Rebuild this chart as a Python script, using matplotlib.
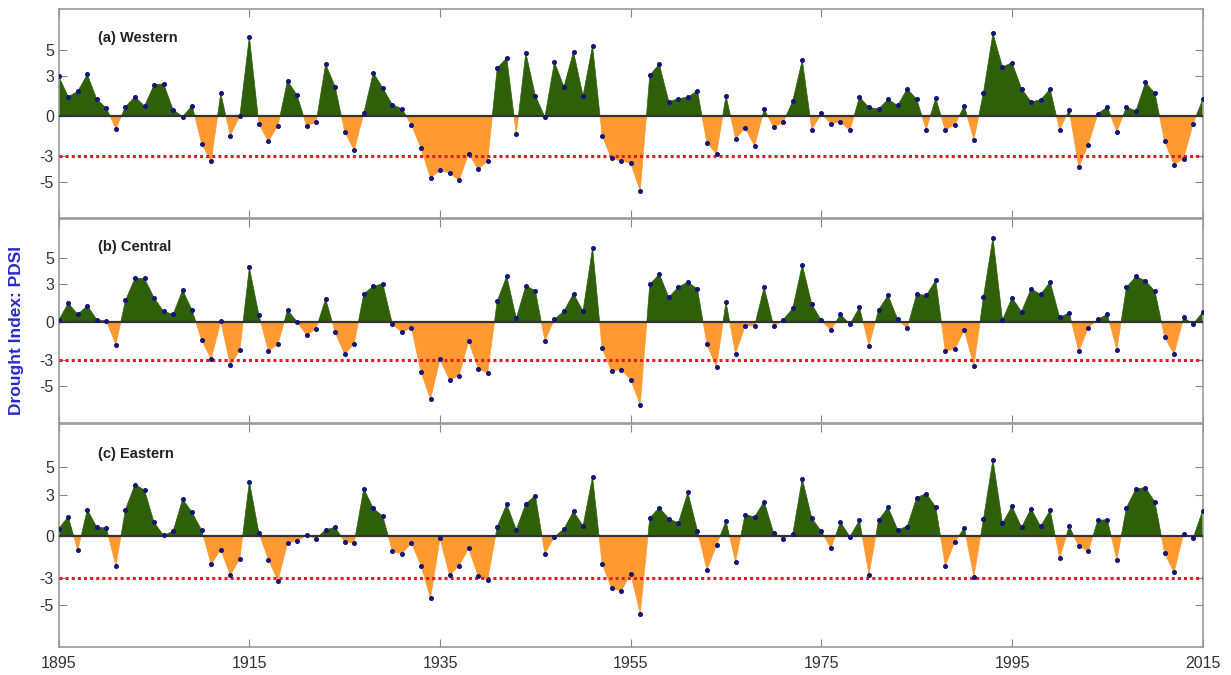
import numpy as np
import matplotlib.pyplot as plt

plt.rcParams['font.family'] = ['Liberation Sans', 'DejaVu Sans']
plt.rcParams['axes.unicode_minus'] = False

years = np.arange(1895, 2016)

western = [3.0, 1.46, 1.86, 3.14, 1.26, 0.6, -0.96, 0.7, 1.46, 0.75,
           2.34, 2.44, 0.48, -0.05, 0.78, -2.09, -3.42, 1.71, -1.48, 0.0,
           5.99, -0.6, -1.91, -0.73, 2.67, 1.58, -0.73, -0.48, 3.92, 2.21,
           -1.18, -2.59, 0.2, 3.27, 2.11, 0.86, 0.55, -0.68, -2.42, -4.68,
           -4.1, -4.3, -4.86, -2.84, -4.03, -3.4, 3.62, 4.38, -1.36, 4.78,
           1.53, -0.08, 4.08, 2.21, 4.86, 1.53, 5.31, -1.48, -3.2, -3.4,
           -3.55, -5.69, 3.07, 3.92, 1.08, 1.31, 1.43, 1.91, -2.04, -2.87,
           1.53, -1.71, -0.91, -2.26, 0.5, -0.86, -0.48, 1.13, 4.23, -1.03,
           0.2, -0.58, -0.45, -1.08, 1.43, 0.65, 0.53, 1.26, 0.8, 2.04,
           1.28, -1.03, 1.36, -1.08, -0.65, 0.78, -1.81, 1.74, 6.24, 3.7,
           4.03, 2.06, 1.08, 1.21, 2.04, -1.06, 0.48, -3.87, -2.16, 0.18,
           0.68, -1.18, 0.68, 0.38, 2.54, 1.71, -1.91, -3.67, -3.22, -0.58,
           1.26]

central = [0.13, 1.48, 0.6, 1.28, 0.18, 0.08, -1.77, 1.69, 3.41, 3.41,
           1.9, 0.83, 0.6, 2.5, 0.91, -1.43, -2.89, 0.05, -3.36, -2.21,
           4.27, 0.55, -2.27, -1.74, 0.94, 0.03, -1.04, -0.52, 1.82, -0.81,
           -2.53, -1.69, 2.21, 2.79, 3.0, -0.16, -0.81, -0.44, -3.91, -6.04,
           -2.92, -4.53, -4.19, -1.48, -3.67, -3.98, 1.64, 3.59, 0.29, 2.84,
           2.45, -1.46, 0.21, 0.86, 2.21, 0.86, 5.81, -2.06, -3.83, -3.72,
           -4.5, -6.48, 2.94, 3.75, 1.95, 2.73, 3.13, 2.58, -1.74, -3.54,
           1.59, -2.5, -0.31, -0.29, 2.73, -0.34, 0.18, 1.07, 4.48, 1.38,
           0.13, -0.65, 0.6, -0.18, 1.15, -1.85, 0.96, 2.08, 0.23, -0.49,
           2.19, 2.08, 3.26, -2.27, -2.11, -0.65, -3.44, 1.95, 6.61, 0.16,
           1.9, 0.81, 2.6, 2.16, 3.13, 0.36, 0.73, -2.29, -0.44, 0.21,
           0.6, -2.16, 2.71, 3.57, 3.23, 2.4, -1.15, -2.53, 0.36, -0.16,
           0.78]

eastern = [0.53, 1.4, -1.04, 1.91, 0.63, 0.58, -2.17, 1.91, 3.72, 3.33,
           0.99, 0.05, 0.34, 2.66, 1.71, 0.41, -2.05, -0.99, -2.83, -1.67,
           3.94, 0.22, -1.71, -3.24, -0.53, -0.34, 0.05, -0.19, 0.46, 0.63,
           -0.43, -0.48, 3.43, 2.0, 1.43, -1.11, -1.28, -0.51, -2.13, -4.49,
           -0.17, -2.85, -2.15, -0.89, -2.9, -3.16, 0.68, 2.29, 0.46, 2.34,
           2.92, -1.28, -0.07, 0.51, 1.79, 0.72, 4.28, -2.0, -3.79, -3.96,
           -2.73, -5.63, 1.3, 2.05, 1.26, 0.94, 3.16, 0.39, -2.44, -0.68,
           1.09, -1.88, 1.55, 1.38, 2.49, 0.22, -0.19, 0.14, 4.15, 1.28,
           0.34, -0.89, 1.01, -0.05, 1.14, -2.8, 1.14, 2.08, 0.46, 0.68,
           2.78, 3.07, 2.1, -2.15, -0.43, 0.6, -2.95, 1.21, 5.53, 0.92,
           2.15, 0.63, 1.98, 0.7, 1.86, -1.62, 0.72, -0.75, -1.09, 1.14,
           1.18, -1.74, 2.05, 3.41, 3.5, 2.44, -1.23, -2.63, 0.17, -0.14,
           1.84]

panel_labels = ['(a) Western', '(b) Central', '(c) Eastern']
series = [western, central, eastern]
threshold = -3
xticks = [1895, 1915, 1935, 1955, 1975, 1995, 2015]
yticks = [-5, -3, 0, 3, 5]

green = '#2f5f09'
orange = '#ff9a33'

fig = plt.figure(figsize=(12.31, 6.75), dpi=100)

boxes = [(0.0477, 0.677, 0.9293, 0.309),
         (0.0477, 0.3733, 0.9293, 0.302),
         (0.0477, 0.0419, 0.9293, 0.330)]
ylims = [(-7.7, 8.05), (-7.9, 8.05), (-8.0, 8.1)]

for i in range(3):
    ax = fig.add_axes(boxes[i])
    v = np.array(series[i])
    ax.fill_between(years, v, 0, where=v >= 0, interpolate=True,
                    color=green, lw=0.5, zorder=2)
    ax.fill_between(years, v, 0, where=v <= 0, interpolate=True,
                    color=orange, lw=0.5, zorder=2)
    ax.axhline(0, color='#333333', lw=1.6, zorder=3)
    ax.axhline(threshold, color='#e02020', lw=2.2, ls=(0, (1, 1)), zorder=3)
    ax.plot(years, v, ls='none', marker='o', ms=2.6, color='#14147a', zorder=4)

    ax.set_xlim(1895, 2015)
    ax.set_ylim(*ylims[i])
    ax.set_xticks(xticks)
    ax.set_yticks(yticks)
    ax.tick_params(direction='in', top=True, right=True, length=6,
                   color='#888888', labelsize=11.5, labelcolor='#333333')
    ax.tick_params(axis='x', pad=7)
    if i < 2:
        ax.tick_params(labelbottom=False)
    for s in ax.spines.values():
        s.set_color('#999999')
        s.set_linewidth(1.2)
    ax.text(0.034, 0.865, panel_labels[i], transform=ax.transAxes,
            fontsize=10.5, fontweight='bold', color='#222222', va='center')

fig.text(0.013, 0.51, 'Drought Index: PDSI', rotation=90, color='#2a2ac8',
         fontsize=12.5, fontweight='bold', ha='center', va='center')

plt.savefig('out.png', dpi=100)
